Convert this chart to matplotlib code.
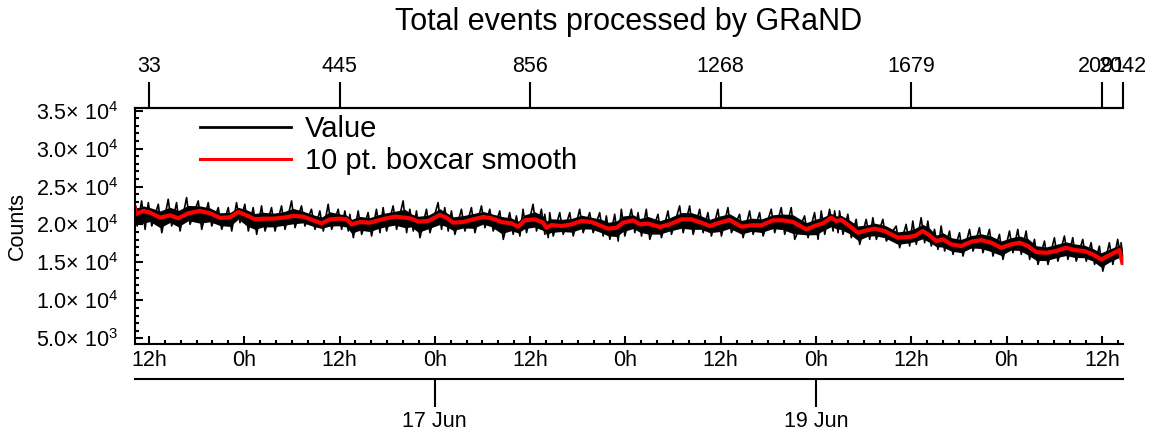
import numpy as np
import matplotlib
matplotlib.use("Agg")
import matplotlib.pyplot as plt
from matplotlib.ticker import MultipleLocator, FuncFormatter
from matplotlib.lines import Line2D

plt.rcParams['font.family'] = ['Liberation Sans', 'DejaVu Sans']
plt.rcParams['mathtext.fontset'] = 'custom'
plt.rcParams['mathtext.rm'] = 'Liberation Sans'

# time in hours since 15 Jun 00:00
hours = [10.22, 10.3, 11.30, 12.14, 13.40, 14.65, 15.70, 16.96, 18.43, 19.69, 20.95, 22.21, 23.25,
         24.30, 25.35, 26.40, 27.66, 28.92, 30.18, 31.43, 32.69, 33.74, 34.79, 36.05, 36.89, 37.52,
         38.57, 39.82, 40.87,
         41.71, 42.97, 44.23, 45.07, 45.91, 47.17, 48.63, 49.47, 50.31, 51.57, 52.83, 54.09, 55.14,
         56.40, 57.65, 58.49, 59.33, 60.59, 61.64, 62.06, 62.69, 63.95, 65.21, 66.46, 67.72, 68.98,
         69.82, 70.87, 71.71,
         72.97, 73.81, 74.85, 76.32, 77.58, 79.05, 80.31, 81.57, 82.61, 83.87, 85.13, 86.60, 87.86,
         89.12, 90.58, 91.84, 93.10, 94.78, 96.04, 96.88, 97.93, 98.56, 99.18, 100.23, 101.28, 102.54,
         103.38, 104.64, 106.31, 107.57, 108.41, 109.46, 110.30, 111.14, 111.98, 113.03, 114.29,
         115.55, 116.80, 118.06, 119.32, 120.58, 121.63, 122.68, 123.73, 124.99, 126.24, 127.50,
         128.55, 129.81, 130.86, 131.90, 133.16, 134.21, 134.63]

# 10 pt. boxcar smooth (red)
smooth = [22500, 21350, 21790, 21570, 20900, 21210, 20820, 21480, 21790, 21480, 20860, 20950, 21650,
          21210, 20680, 20770, 20770, 20900, 21130, 21040, 20550, 20150, 20680, 20770, 20680, 20020,
          20330, 20240, 20550,
          20770, 21040, 20900, 20770, 20380, 20460, 21260, 20900, 20240, 20330, 20680, 20990, 20820,
          20330, 20150, 19710, 20550, 20680, 20240, 19580, 19930, 19800, 20020, 20460, 20330, 19800,
          19450, 19580, 20240,
          20550, 20020, 20110, 19670, 20020, 20680, 20680, 20240, 19800, 20240, 20600, 19710, 19890,
          19890, 20550, 20550, 20330, 19360, 19890, 20150, 20900, 20460, 20600, 19800, 18920, 19270,
          19450, 19140, 18260, 18350, 18480, 19140, 18570, 17820, 18040, 17380, 17160, 17730, 17950,
          17600, 16940, 17380, 17600, 17160, 16360, 16270, 16500, 16940, 16630, 16500, 16060, 15390,
          16060, 16630, 14700]

# highest / lowest raw value seen around each time (black trace)
value_hi = [22900, 22670, 23110, 22890, 22670, 23330, 22890, 23550, 23110, 22890, 22230, 22230, 22890,
            22670, 22230, 22450, 22230, 22450, 23110, 22450, 22010, 21790, 22670, 22010, 21790, 21350,
            21790, 21570, 22010,
            22230, 22450, 23110, 22010, 21790, 22010, 22890, 22230, 21790, 22010, 22230, 22450, 22010,
            21790, 21570, 21130, 22010, 22670, 22010, 21350, 21570, 21570, 21570, 22010, 21570, 21570,
            21130, 21350, 22010,
            22010, 21570, 22010, 21350, 21790, 22450, 22450, 22010, 21570, 22010, 22230, 21350, 21790,
            21570, 22010, 22230, 22230, 21130, 21570, 21790, 22010, 21790, 21790, 21350, 20680, 20680,
            20900, 20680, 19800, 20020, 20460, 20900, 20460, 19360, 19800, 19140, 18920, 19360, 19580,
            19360, 18700, 19140, 19360, 19140, 18040, 17820, 18260, 18480, 18260, 18040, 17600, 17160,
            17600, 18040, 17600]
value_lo = [20600, 19800, 19360, 19800, 18920, 19800, 19140, 20020, 19360, 19800, 19360, 19140, 20240,
            19140, 18700, 19140, 19140, 19360, 19580, 19800, 19360, 19140, 19360, 19360, 19140, 18260,
            18700, 18480, 18920,
            19140, 19360, 18920, 19140, 18260, 18920, 19360, 19140, 18700, 19140, 18920, 19580, 19140,
            18040, 18700, 18480, 18920, 19140, 18700, 18260, 18480, 18700, 18480, 18920, 18920, 18480,
            18040, 17820, 18480,
            18920, 18480, 18040, 18260, 18700, 18920, 18700, 18920, 18480, 18480, 18920, 18260, 18700,
            18480, 18920, 18700, 18040, 18260, 18040, 18700, 19140, 18920, 18700, 18260, 17380, 18040,
            18040, 17820, 16940, 17160, 17380, 17600, 17160, 16720, 16500, 16060, 15840, 16500, 16280,
            15840, 15400, 16280, 16060, 15400, 14730, 14730, 15170, 15400, 15170, 15170, 14730, 13850,
            14730, 15170, 14500]

# record numbers shown on the top axis
record_hours = [12, 36, 60, 84, 108, 132, 134.63]
record_labels = ['33', '445', '856', '1268', '1679', '2091', '2042']
date_hours = [48, 96]
date_labels = ['17 Jun', '19 Jun']

fig = plt.figure(figsize=(11.56, 4.41), dpi=100)
ax = fig.add_axes([0.1168, 0.22, 0.8546, 0.5362])

t = np.array(hours)
hi = np.array(value_hi)
lo = np.array(value_lo)
sm = np.array(smooth)
# dense core of the raw values plus the spikes reaching hi / lo
ax.fill_between(t, (sm + 2 * lo) / 3, (sm + hi) / 2, color='black', lw=0)
trace_t = np.column_stack([t - 0.22, t + 0.22]).ravel()
trace_v = np.column_stack([hi, lo]).ravel()
ax.plot(trace_t, trace_v, color='black', lw=1.2)
ax.plot(t, sm, color='red', lw=3, solid_joinstyle='round', solid_capstyle='butt')

ax.set_xlim(10.25, 134.65)
ax.set_ylim(4250, 35420)

for s in ['left', 'bottom', 'top']:
    ax.spines[s].set_linewidth(1.5)
ax.spines['right'].set_visible(False)

ax.xaxis.set_major_locator(MultipleLocator(12))
ax.xaxis.set_minor_locator(MultipleLocator(2))
ax.xaxis.set_major_formatter(FuncFormatter(lambda v, p: f"{int(round(v)) % 24}h"))
ax.yaxis.set_major_locator(MultipleLocator(5000))
ax.yaxis.set_minor_locator(MultipleLocator(1000))


def sci(v, p):
    if v <= 0:
        return ''
    e = int(np.floor(np.log10(v)))
    return f"{v / 10 ** e:.1f}\u00d7 10$^\\mathregular{{{e}}}$"


ax.yaxis.set_major_formatter(FuncFormatter(sci))
ax.tick_params(which='major', direction='in', length=6, width=1.5, labelsize=15.5)
ax.tick_params(which='minor', direction='in', length=3, width=1.5)
ax.tick_params(axis='x', which='major', pad=4)
ax.tick_params(axis='y', which='major', pad=12)
ax.tick_params(right=False, top=False, which='both')

ax.set_ylabel('Counts', fontsize=15.5)
ax.yaxis.set_label_coords(-0.108, 0.5)

top = ax.secondary_xaxis('top')
top.set_xticks(record_hours, labels=record_labels)
top.tick_params(direction='out', length=19, width=1.5, labelsize=15.5, pad=3)
top.spines['top'].set_linewidth(1.5)

dates = ax.secondary_xaxis(-0.148)
dates.set_xticks(date_hours, labels=date_labels)
dates.tick_params(direction='out', length=20, width=1.5, labelsize=15.5, pad=3)
dates.spines['bottom'].set_linewidth(1.5)

handles = [Line2D([], [], color='black', lw=2),
           Line2D([], [], color='red', lw=2.2)]
ax.legend(handles, ['Value', '10 pt. boxcar smooth'], loc='upper left',
          bbox_to_anchor=(0.066, 0.968), frameon=False, fontsize=21,
          handlelength=3.1, handletextpad=0.5, labelspacing=0.14,
          borderpad=0, borderaxespad=0)

fig.text(0.544, 1 - 22 / 441, 'Total events processed by GRaND', fontsize=22,
         ha='center', va='center')

fig.savefig('out.png', dpi=100)
